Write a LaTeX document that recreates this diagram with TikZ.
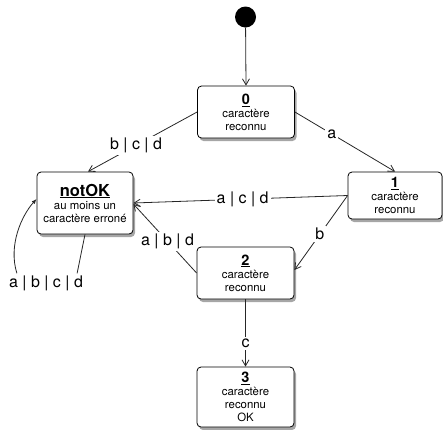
\documentclass[tikz,border=0pt]{standalone}
\usepackage{fontspec}
\setmainfont{TeX Gyre Heros}
\usetikzlibrary{arrows.meta,shadows}

\begin{document}
\begin{tikzpicture}[x=1pt,y=-1pt,
  state/.style={draw=black, line width=0.8pt, rounded corners=4pt, fill=white,
    align=center, inner sep=0pt, font=\fontsize{11.4}{13}\selectfont,
    drop shadow={shadow xshift=2pt, shadow yshift=-3pt, opacity=0.35, fill=black}},
  edge/.style={draw=black!85, line width=0.8pt, -{Straight Barb[length=6pt,width=7pt]}},
  plain/.style={draw=black!85, line width=0.8pt},
  lbl/.style={fill=white, inner sep=2pt, font=\fontsize{16}{16}\selectfont},
]
\newcommand\statenum[1]{{\fontsize{14.5}{15}\selectfont\bfseries\underline{#1}}}
\useasboundingbox (0,0) rectangle (443,429);

% initial state
\node[circle, fill=black, minimum size=21pt, inner sep=0pt] (init) at (245.5,17) {};

% states
\node[state, minimum width=97pt, minimum height=52pt] (s0) at (246,112)
  {\statenum{0}\\caractère\\reconnu};
\node[state, minimum width=96pt, minimum height=62pt] (nok) at (85,203)
  {{\fontsize{16.5}{18}\selectfont\bfseries\underline{notOK}}\\au moins un\\caractère erroné};
\node[state, minimum width=94pt, minimum height=47pt] (s1) at (395,195.5)
  {\statenum{1}\\caractère\\reconnu};
\node[state, minimum width=97pt, minimum height=52pt] (s2) at (245.5,273)
  {\statenum{2}\\caractère\\reconnu};
\node[state, minimum width=97pt, minimum height=60pt] (s3) at (245.5,397)
  {\statenum{3}\\caractère\\reconnu\\OK};

% transitions
\draw[edge] (init) -- (s0.north);
\draw[edge] (s0.west) -- node[lbl, pos=0.56] (lbcd) {b | c | d} ([xshift=3pt]nok.north);
\draw[edge] (s0.east) -- node[lbl, pos=0.37] (la) {a} (s1.north);
\draw[edge] (s1.west) -- node[lbl, pos=0.49] (lacd) {a | c | d} (nok.east);
\draw[edge] (s1.west) -- node[lbl, pos=0.52] (lb) {b} ([yshift=3pt]s2.east);
\draw[edge] (s2.west) -- node[lbl, pos=0.46] (labd) {a | b | d} ([yshift=-1pt]nok.east);
\draw[edge] (s2.south) -- node[lbl, pos=0.65] (lc) {c} (s3.north);

% self loop on notOK
\node[lbl, fill=none] (labcd) at (46,283) {a | b | c | d};
\draw[plain] (nok.south) -- ([xshift=-8pt]labcd.north east);
\draw[-{Latex[length=5pt,width=4pt]}, draw=black!85, line width=0.8pt]
  ([xshift=10pt]labcd.north west) .. controls (8,245) and (22,215) .. ([yshift=4pt]nok.west);
\end{tikzpicture}
\end{document}
